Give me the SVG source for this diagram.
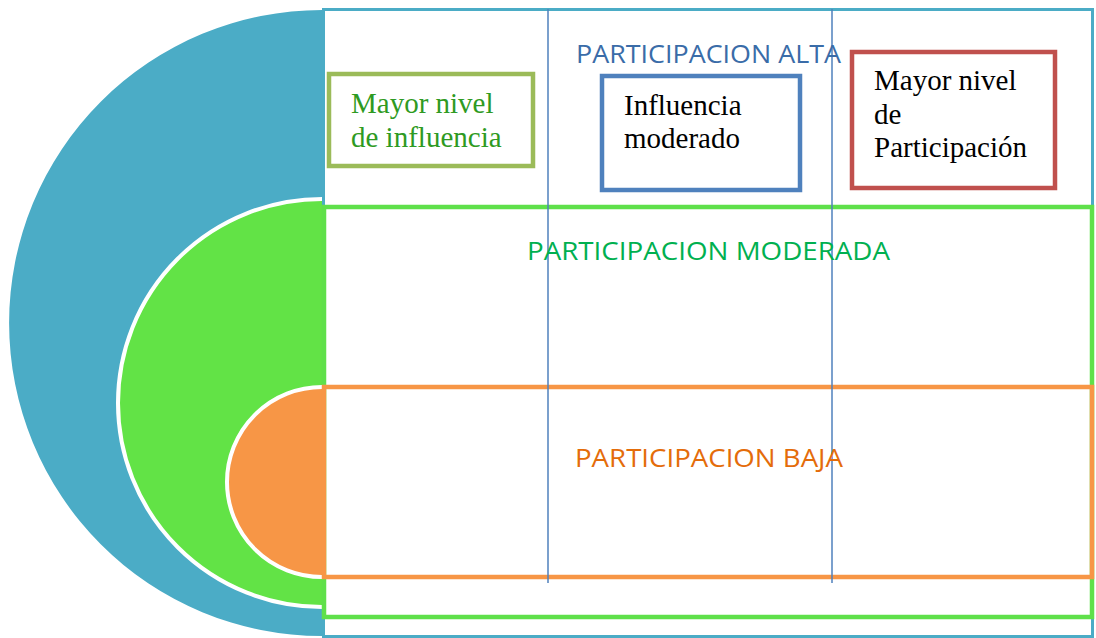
<svg xmlns="http://www.w3.org/2000/svg" width="1096" height="638" viewBox="0 0 1096 638">
<style>
.band{fill:none;stroke-width:4.5}
.arc{fill:none;stroke:#fff;stroke-width:4}
.vl{stroke:#4F81BD;stroke-width:1.5}
.box{fill:#fff;stroke-width:4.5}
.serif{font-family:"Liberation Serif","Times New Roman",serif;font-size:29px}
.sans{font-family:"Open Sans","Liberation Sans",sans-serif;font-size:26px}
</style>
<rect width="1096" height="638" fill="#fff"/>
<g id="alta">
<path d="M322,10 A313,313 0 0 0 322,636 Z" fill="#4BACC6"/>
<rect x="323.5" y="9.5" width="769" height="627" fill="none" stroke="#4BACC6" stroke-width="3"/>
</g>
<g id="moderada">
<path d="M322,199 A204,204 0 0 0 322,607 Z" fill="#62E346"/>
<path class="arc" d="M322,199 A204,204 0 0 0 322,607"/>
<rect x="324" y="207" width="768" height="410" class="band" stroke="#5FE04A"/>
</g>
<g id="baja">
<path d="M322,387 A95,95 0 0 0 322,577 Z" fill="#F79646"/>
<path class="arc" d="M322,387 A95,95 0 0 0 322,577"/>
<rect x="324" y="387" width="768" height="190" class="band" stroke="#F79646"/>
</g>
<g id="connectors">
<line class="vl" x1="548" y1="9" x2="548" y2="583"/>
<line class="vl" x1="832" y1="9" x2="832" y2="583"/>
</g>
<g id="label-alta"><text class="sans" x="576" y="63" fill="#3A6CA8" textLength="265" lengthAdjust="spacingAndGlyphs">PARTICIPACION ALTA</text></g>
<g id="label-moderada"><text class="sans" x="527" y="260" fill="#00B050" textLength="363" lengthAdjust="spacingAndGlyphs">PARTICIPACION MODERADA</text></g>
<g id="label-baja"><text class="sans" x="575" y="467" fill="#E46C0A" textLength="268" lengthAdjust="spacingAndGlyphs">PARTICIPACION BAJA</text></g>
<g id="box-influencia">
<rect class="box" x="329" y="74" width="204" height="92" stroke="#9BBB59"/>
<text class="serif" fill="#2E9A22"><tspan x="351" y="113">Mayor nivel</tspan><tspan x="351" y="147">de influencia</tspan></text>
</g>
<g id="box-moderado">
<rect class="box" x="602" y="76" width="198" height="114" stroke="#4F81BD"/>
<text class="serif" fill="#000"><tspan x="624" y="115">Influencia</tspan><tspan x="624" y="148">moderado</tspan></text>
</g>
<g id="box-participacion">
<rect class="box" x="852" y="52" width="203" height="136" stroke="#C0504D"/>
<text class="serif" fill="#000"><tspan x="874" y="90">Mayor nivel</tspan><tspan x="874" y="124">de</tspan><tspan x="874" y="157">Participación</tspan></text>
</g>
</svg>
